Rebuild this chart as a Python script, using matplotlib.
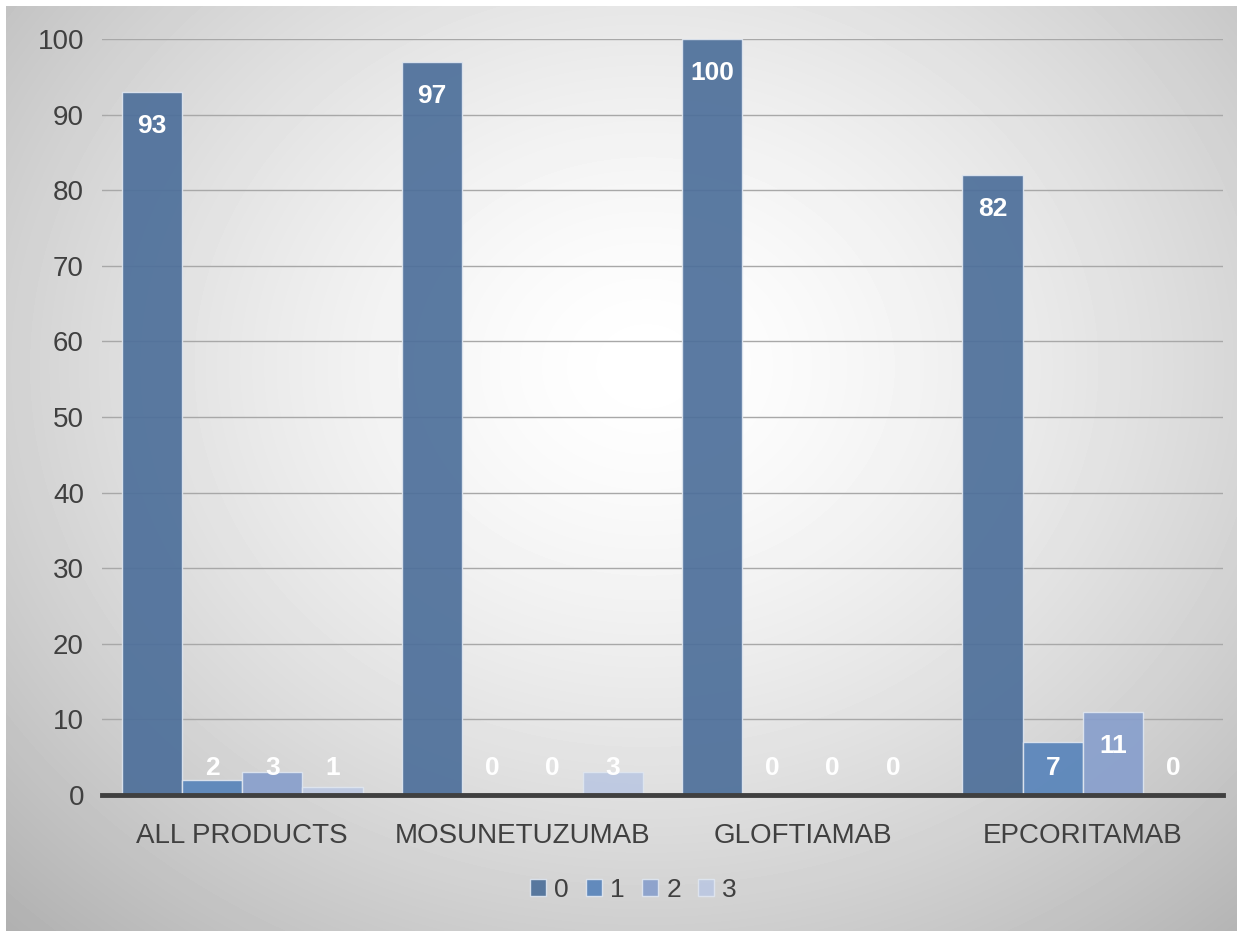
import matplotlib.pyplot as plt
import numpy as np

plt.rcParams['font.family'] = ['Liberation Sans', 'DejaVu Sans']

categories = ['ALL PRODUCTS', 'MOSUNETUZUMAB', 'GLOFTIAMAB', 'EPCORITAMAB']
series_names = ['0', '1', '2', '3']
values = [
    [93, 97, 100, 82],   # 0
    [2, 0, 0, 7],        # 1
    [3, 0, 0, 11],       # 2
    [1, 3, 0, 0],        # 3
]
colors = ['#4d6f9a', '#5884ba', '#889fcc', '#bcc8e2']

fig = plt.figure(figsize=(12.37, 9.31), dpi=100, facecolor='white')

# radial gradient background (chart area leaves a thin white margin top/left)
bg = fig.add_axes([6 / 1237, 0, 1 - 6 / 1237, 1 - 6 / 931], zorder=-10)
yy, xx = np.mgrid[0:925, 0:1231]
r = np.sqrt(((xx - 640) / 760.0) ** 2 + ((yy - 360) / 640.0) ** 2)
shade = 1.0 - 0.23 * np.clip(r, 0, 1.3) ** 1.5
bg.imshow(shade, cmap='gray', vmin=0, vmax=1, aspect='auto', interpolation='bilinear')
bg.axis('off')

ax = fig.add_axes([0.0825, 0.1461, 0.9062, 0.8119])
ax.patch.set_alpha(0)

x = np.arange(len(categories))
w = 0.215
for i, vals in enumerate(values):
    pos = x + (i - 1.5) * w
    ax.bar(pos, vals, width=w, color=colors[i], alpha=0.92, edgecolor='#dfe6f0',
           linewidth=1, label=series_names[i], zorder=3)
    for p, v in zip(pos, vals):
        ax.text(p, max(v - 4.5, 3.6), str(v), ha='center', va='center',
                color='white', fontsize=19, fontweight='bold', zorder=4)

ax.set_xlim(-0.5, len(categories) - 0.5)
ax.set_ylim(0, 100)
ax.set_yticks(range(0, 101, 10))
ax.grid(axis='y', color='#a8a8a8', linewidth=1, zorder=0)
ax.set_axisbelow(True)
for s in ['top', 'right', 'left']:
    ax.spines[s].set_visible(False)
ax.spines['bottom'].set_color('#404040')
ax.spines['bottom'].set_linewidth(3.5)
ax.spines['bottom'].set_zorder(5)
ax.set_xticks(x)
ax.set_xticklabels(categories)
ax.tick_params(axis='both', length=0, labelsize=20, colors='#404040')
ax.tick_params(axis='x', pad=20)
ax.tick_params(axis='y', pad=13)

ax.legend(loc='upper center', bbox_to_anchor=(0.474, -0.078), ncol=4, frameon=False,
          fontsize=19, handlelength=0.62, handleheight=0.62, handletextpad=0.3,
          columnspacing=0.65, labelcolor='#404040')

fig.savefig('out.png', dpi=100)
